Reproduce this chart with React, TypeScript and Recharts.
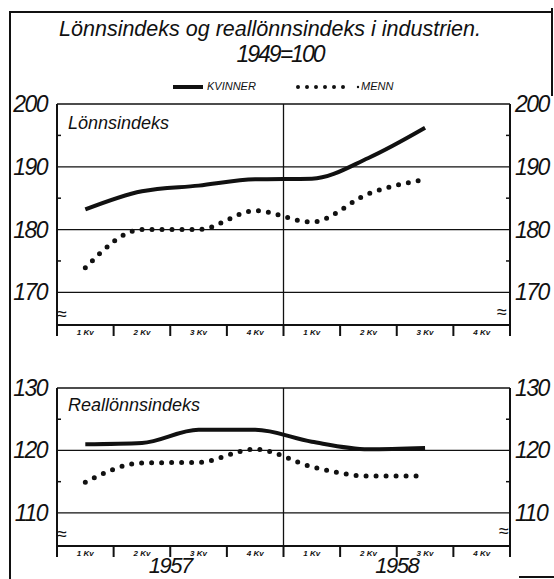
import { LineChart, Line, XAxis, YAxis, ReferenceLine } from 'recharts';

// quarters along the bottom, two years
const quarters = ['1 Kv', '2 Kv', '3 Kv', '4 Kv', '1 Kv', '2 Kv', '3 Kv', '4 Kv'];
const years = ['1957', '1958'];

// Lønnsindeks (1949=100)
const lonnKvinner = [183.2, 186.1, 187.0, 188.0, 188.1, 191.4, 196.2, null];
const lonnMenn = [173.9, 180.0, 180.0, 183.0, 181.2, 185.7, 188.0, null];

// Reallønnsindeks
const realKvinner = [121.0, 121.2, 123.3, 123.3, 121.4, 120.2, 120.4, null];
const realMenn = [114.9, 118.0, 118.1, 120.2, 117.4, 115.9, 115.9, null];

const lonnTicks = [170, 175, 180, 185, 190, 195, 200];
const lonnMajor = [170, 180, 190, 200];
const realTicks = [110, 115, 120, 125, 130];
const realMajor = [110, 120, 130];

const W = 554;
const LEFT_W = 57;
const RIGHT_W = 44;
const BW = (W - LEFT_W - RIGHT_W) / quarters.length;
const INK = '#111';
const FONT = '"Liberation Sans", Arial, sans-serif';

const xTicks = quarters.map((_, i) => i + 0.5);
const lonnData = quarters.map((q, i) => ({ pos: i + 0.5, q, kvinner: lonnKvinner[i], menn: lonnMenn[i] }));
const realData = quarters.map((q, i) => ({ pos: i + 0.5, q, kvinner: realKvinner[i], menn: realMenn[i] }));

function makeYTick(major: number[], side: 'left' | 'right') {
	return (props: any) => {
		const { x, y, payload } = props;
		const v = payload.value;
		if (major.includes(v)) {
			return (
				<text
					x={side === 'left' ? x - 10 : x + 5}
					y={y + 8}
					textAnchor={side === 'left' ? 'end' : 'start'}
					fontFamily={FONT}
					fontStyle="italic"
					fontSize={23}
					letterSpacing={-1.5}
					fill={INK}
				>
					{v}
				</text>
			);
		}
		const dx = side === 'left' ? 4 : -4;
		return <line x1={x} x2={x + dx} y1={y} y2={y} stroke={INK} strokeWidth={1.5} />;
	};
}

function makeXTick(showYears: boolean) {
	return (props: any) => {
		const { x, y, payload } = props;
		const i = Math.floor(payload.value);
		const half = BW / 2;
		return (
			<g>
				<line x1={x - half} x2={x - half} y1={y} y2={y + 11} stroke={INK} strokeWidth={2} />
				{i === quarters.length - 1 && (
					<line x1={x + half} x2={x + half} y1={y} y2={y + 11} stroke={INK} strokeWidth={2} />
				)}
				<text
					x={x}
					y={y + 9.5}
					textAnchor="middle"
					fontFamily={FONT}
					fontStyle="italic"
					fontWeight="bold"
					fontSize={8}
					fill={INK}
				>
					{quarters[i]}
				</text>
				{showYears && i % 4 === 1 && (
					<text
						x={x + half}
						y={y + 27}
						textAnchor="middle"
						fontFamily={FONT}
						fontStyle="italic"
						fontSize={22}
						letterSpacing={-1.5}
						fill={INK}
					>
						{years[Math.floor(i / 4)]}
					</text>
				)}
			</g>
		);
	};
}

function Panel({
	data,
	domain,
	ticks,
	major,
	height,
	top,
	xHeight,
	showYears,
}: {
	data: any[];
	domain: [number, number];
	ticks: number[];
	major: number[];
	height: number;
	top: number;
	xHeight: number;
	showYears: boolean;
}) {
	return (
		<LineChart width={W} height={height} data={data} margin={{ top, right: 0, bottom: 0, left: 0 }}>
			<XAxis
				dataKey="pos"
				type="number"
				domain={[0, quarters.length]}
				ticks={xTicks}
				interval={0}
				height={xHeight}
				tickSize={0}
				tickMargin={0}
				tickLine={false}
				axisLine={{ stroke: INK, strokeWidth: 2 }}
				tick={makeXTick(showYears)}
			/>
			<YAxis
				yAxisId="left"
				domain={domain}
				allowDataOverflow
				ticks={ticks}
				interval={0}
				width={LEFT_W}
				tickSize={0}
				tickMargin={0}
				tickLine={false}
				axisLine={{ stroke: INK, strokeWidth: 2 }}
				tick={makeYTick(major, 'left')}
			/>
			<YAxis
				yAxisId="right"
				orientation="right"
				domain={domain}
				allowDataOverflow
				ticks={ticks}
				interval={0}
				width={RIGHT_W}
				tickSize={0}
				tickMargin={0}
				tickLine={false}
				axisLine={{ stroke: INK, strokeWidth: 2 }}
				tick={makeYTick(major, 'right')}
			/>
			{major.map((v) => (
				<ReferenceLine key={v} yAxisId="left" y={v} stroke={INK} strokeWidth={1.3} />
			))}
			<ReferenceLine yAxisId="left" x={quarters.length / 2} stroke={INK} strokeWidth={1.3} />
			<Line
				yAxisId="left"
				type="monotone"
				dataKey="kvinner"
				stroke={INK}
				strokeWidth={4}
				dot={false}
				isAnimationActive={false}
			/>
			<Line
				yAxisId="left"
				type="monotone"
				dataKey="menn"
				stroke={INK}
				strokeWidth={5}
				strokeDasharray="0 10"
				strokeLinecap="round"
				dot={false}
				isAnimationActive={false}
			/>
		</LineChart>
	);
}

const abs = (left: number, top: number, extra: any = {}) => ({
	position: 'absolute' as const,
	left,
	top,
	lineHeight: 1,
	whiteSpace: 'nowrap' as const,
	fontFamily: FONT,
	fontStyle: 'italic',
	color: INK,
	...extra,
});

export default function App() {
	return (
		<div style={{ position: 'absolute', left: 0, top: 0, width: W, height: 579, background: '#fff', overflow: 'hidden' }}>
			<div style={{ position: 'absolute', left: 0, top: 0 }}>
				<Panel data={lonnData} domain={[164.8, 200]} ticks={lonnTicks} major={lonnMajor} height={345} top={104} xHeight={20} showYears={false} />
			</div>
			<div style={{ position: 'absolute', left: 0, top: 350 }}>
				<Panel data={realData} domain={[104.7, 130]} ticks={realTicks} major={realMajor} height={229} top={38} xHeight={33} showYears />
			</div>

			{/* frame */}
			<div style={{ position: 'absolute', left: 9, top: 11, width: 2, height: 568, background: INK }} />
			<div style={{ position: 'absolute', left: 9, top: 11, width: 544, height: 2, background: INK }} />
			<div style={{ position: 'absolute', left: 551, top: 8, width: 2, height: 88, background: INK }} />
			<div style={{ position: 'absolute', left: 519, top: 576, width: 35, height: 2, background: INK }} />

			{/* title */}
			<div style={abs(59, 19, { width: 422, textAlign: 'center', fontSize: 21.5 })}>
				Lönnsindeks og reallönnsindeks i industrien.
			</div>
			<div style={abs(230, 43, { width: 100, textAlign: 'center', fontSize: 23, letterSpacing: -2 })}>1949=100</div>

			{/* legend */}
			<div style={{ position: 'absolute', left: 173, top: 85, width: 30, height: 3.5, background: INK }} />
			<div style={abs(207, 81, { fontSize: 11 })}>KVINNER</div>
			<svg style={{ position: 'absolute', left: 294, top: 82 }} width={66} height={10}>
				<line x1={4} x2={58} y1={5} y2={5} stroke={INK} strokeWidth={4} strokeDasharray="0 9" strokeLinecap="round" />
				<circle cx={64} cy={5} r={1.2} fill={INK} />
			</svg>
			<div style={abs(361, 81, { fontSize: 11 })}>MENN</div>

			{/* panel labels */}
			<div style={abs(68, 114, { fontSize: 18 })}>Lönnsindeks</div>
			<div style={abs(68, 396, { fontSize: 18 })}>Reallönnsindeks</div>

			{/* axis breaks */}
			<div style={abs(57, 305, { fontSize: 18, fontStyle: 'normal' })}>≈</div>
			<div style={abs(497, 303, { fontSize: 18, fontStyle: 'normal' })}>≈</div>
			<div style={abs(57, 525, { fontSize: 18, fontStyle: 'normal' })}>≈</div>
			<div style={abs(499, 522, { fontSize: 18, fontStyle: 'normal' })}>≈</div>
		</div>
	);
}
